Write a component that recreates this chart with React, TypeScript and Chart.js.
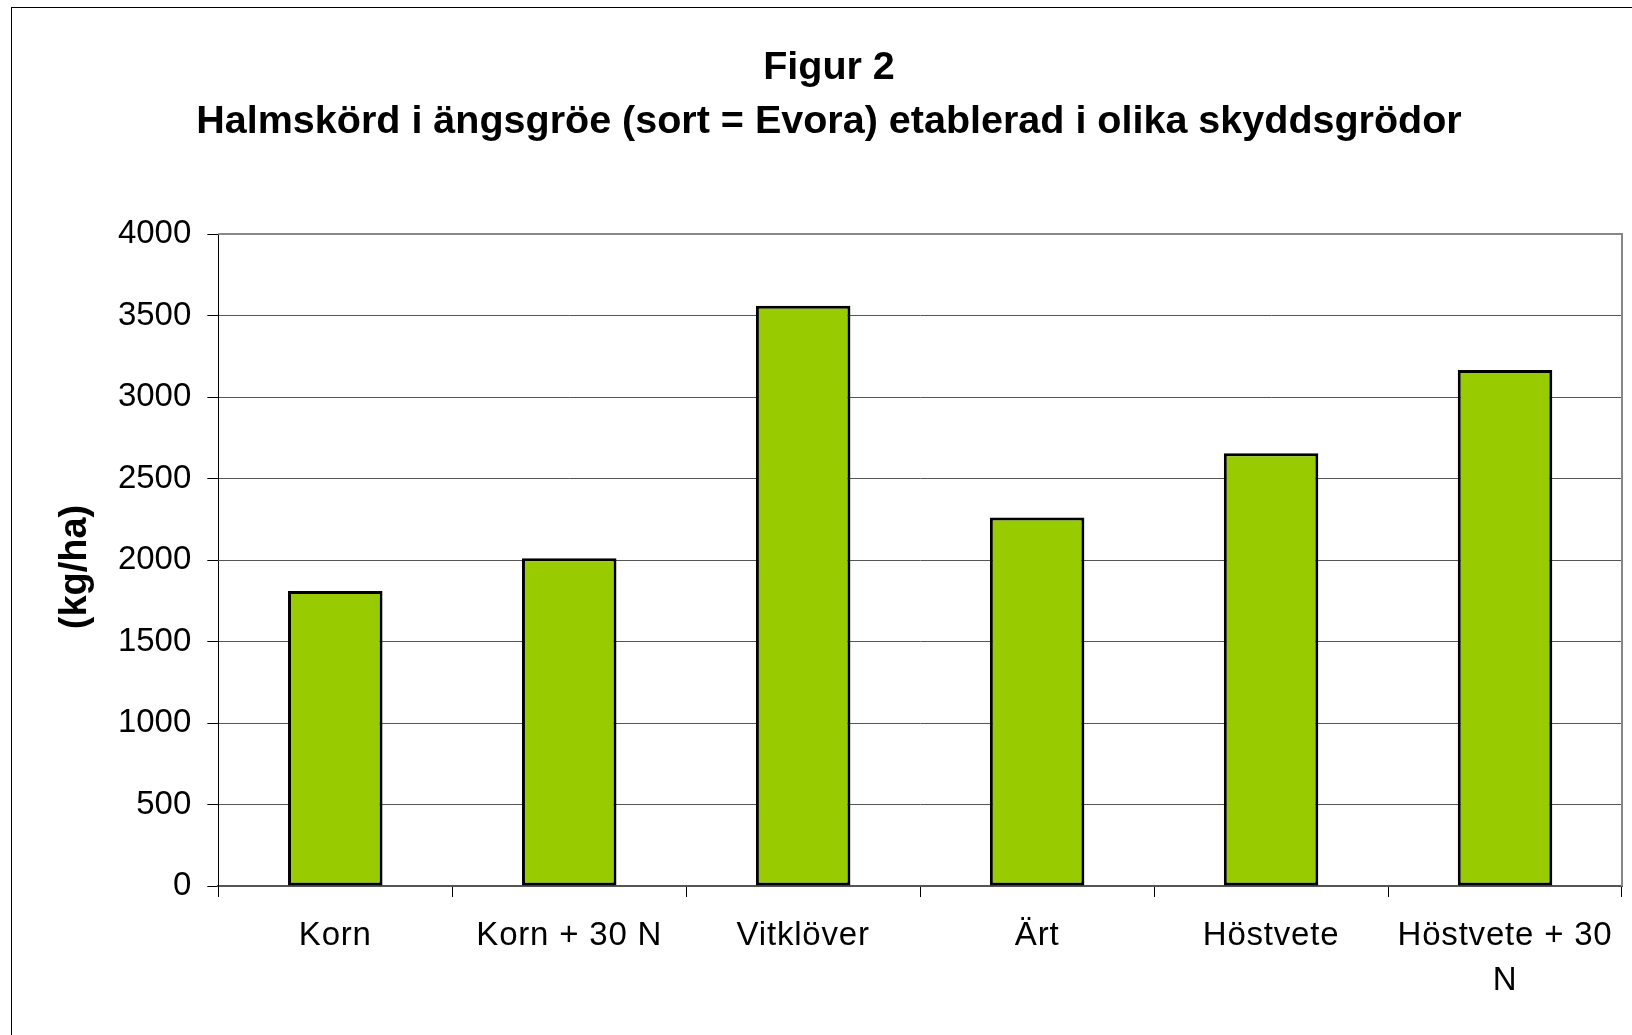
import React, { useEffect, useRef } from "react";
import { Chart, registerables } from "chart.js";

Chart.register(...registerables);

const categories: (string | string[])[] = [
  "Korn",
  "Korn + 30 N",
  "Vitklöver",
  "Ärt",
  "Höstvete",
  ["Höstvete + 30", "N"],
];
const yieldValues: number[] = [1810, 2010, 3560, 2260, 2655, 3165];
const titleLines: string[] = [
  "Figur 2",
  "Halmskörd i ängsgröe (sort = Evora) etablerad i olika skyddsgrödor",
];
const yAxisTitle = "(kg/ha)";
const yMin = 0;
const yMax = 4000;
const yStep = 500;

const FONT = "'Liberation Sans', Arial, Helvetica, sans-serif";

const framePlugin = {
  id: "plotFrame",
  afterLayout(chart: any) {
    const sx = chart.scales.x;
    if (sx && !sx.__spaced) {
      const orig = sx.drawLabels;
      sx.drawLabels = function (area: any) {
        const ctx = this.ctx;
        ctx.save();
        (ctx as any).letterSpacing = "0.8px";
        orig.call(this, area);
        ctx.restore();
      };
      sx.__spaced = true;
    }
  },
  afterDatasetsDraw(chart: any) {
    const { ctx, chartArea: a } = chart;
    ctx.save();
    ctx.strokeStyle = "#888888";
    ctx.lineWidth = 2;
    ctx.beginPath();
    ctx.moveTo(a.left, a.top);
    ctx.lineTo(a.right, a.top);
    ctx.lineTo(a.right, a.bottom);
    ctx.stroke();
    ctx.translate(76, 567);
    ctx.rotate(-Math.PI / 2);
    ctx.font = `bold 38px ${FONT}`;
    ctx.fillStyle = "#000";
    ctx.textAlign = "center";
    ctx.textBaseline = "middle";
    ctx.fillText(yAxisTitle, 0, 0);
    ctx.restore();
  },
};

export default function App() {
  const ref = useRef<HTMLCanvasElement | null>(null);

  useEffect(() => {
    if (!ref.current) return;
    const chart = new Chart(ref.current, {
      type: "bar",
      data: {
        labels: categories,
        datasets: [
          {
            data: yieldValues,
            backgroundColor: "#99CC00",
            borderColor: "#000000",
            borderWidth: 3,
            borderSkipped: false,
            categoryPercentage: 1,
            barPercentage: 0.404,
          },
        ],
      },
      options: {
        responsive: false,
        animation: false,
        devicePixelRatio: 1,
        layout: { padding: { left: 36, right: 10, top: 0, bottom: 0 } },
        plugins: {
          legend: { display: false },
          tooltip: { enabled: false },
          title: {
            display: true,
            text: titleLines,
            color: "#000",
            font: { family: FONT, size: 39.5, weight: "bold", lineHeight: 54 / 39.5 },
            padding: { top: 40.7, bottom: 85.3 },
          },
        },
        scales: {
          x: {
            afterFit: (s: any) => {
              s.height = 149;
            },
            grid: {
              offset: true,
              drawOnChartArea: false,
              drawTicks: true,
              tickLength: 11,
              tickColor: "#000",
              tickWidth: 1,
            },
            border: { color: "#555555", width: 2 },
            ticks: {
              color: "#000",
              padding: 17,
              maxRotation: 0,
              autoSkip: false,
              font: { family: FONT, size: 33, lineHeight: 1.345 },
            },
          },
          y: {
            min: yMin,
            max: yMax,
            afterFit: (s: any) => {
              s.width = 182.3;
            },
            grid: {
              color: "#555555",
              lineWidth: 1,
              drawTicks: true,
              tickLength: 11,
              tickColor: "#000",
              tickWidth: 1,
            },
            border: { color: "#000", width: 1 },
            ticks: {
              stepSize: yStep,
              color: "#000",
              padding: 16,
              font: { family: FONT, size: 33 },
              callback: (v: any) => String(v),
            },
          },
        },
      },
      plugins: [framePlugin],
    });
    return () => chart.destroy();
  }, []);

  return (
    <div
      style={{
        position: "fixed",
        left: 0,
        top: 0,
        width: 1632,
        height: 1035,
        overflow: "hidden",
        background: "#fff",
      }}
    >
      <canvas
        ref={ref}
        width={1632}
        height={1035}
        style={{ position: "absolute", left: 0, top: 0, width: 1632, height: 1035 }}
      />
      <div
        style={{
          position: "absolute",
          left: 11,
          top: 7,
          width: 1700,
          height: 1100,
          border: "1px solid #000",
          pointerEvents: "none",
        }}
      />
    </div>
  );
}
